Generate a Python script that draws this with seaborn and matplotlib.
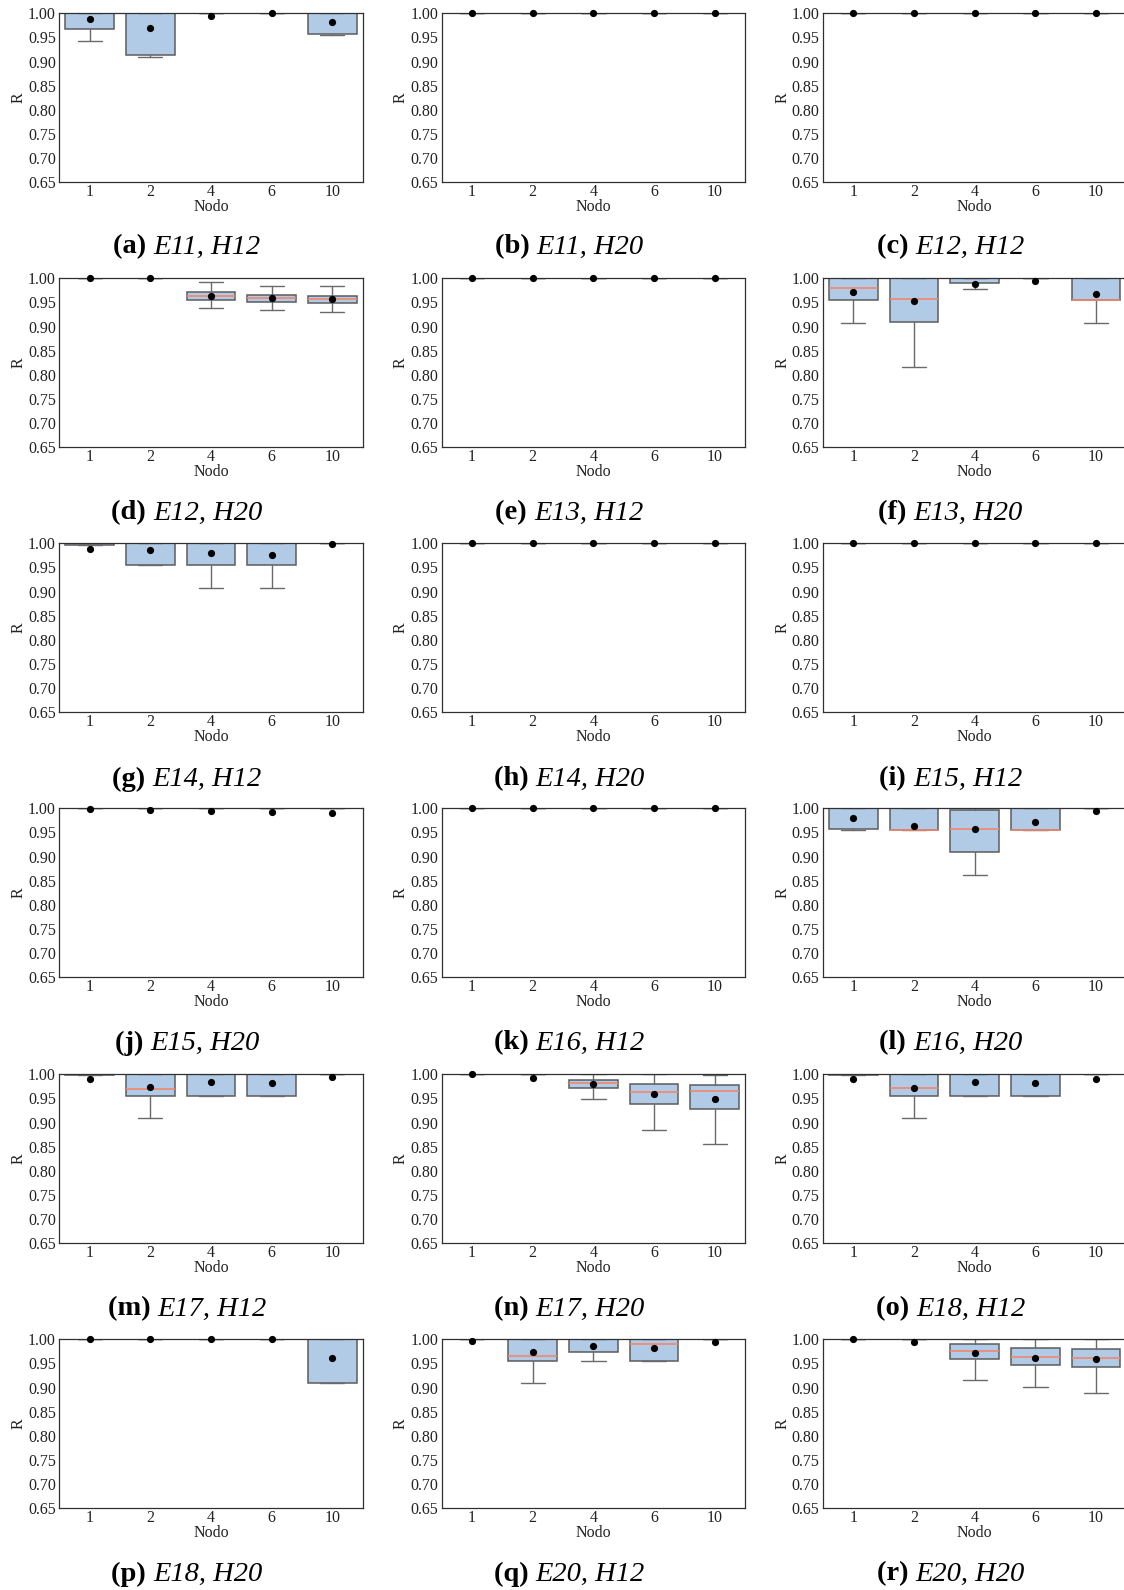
import matplotlib
matplotlib.use("Agg")
import matplotlib.pyplot as plt
import seaborn as sns
import pandas as pd

# ---- data -------------------------------------------------------------
NODOS = ["1", "2", "4", "6", "10"]
LETTERS = list("abcdefghijklmnopqr")
CASE_E = ["E11", "E11", "E12", "E12", "E13", "E13", "E14", "E14", "E15",
          "E15", "E16", "E16", "E17", "E17", "E18", "E18", "E20", "E20"]
CASE_H = ["H12", "H20"] * 9

ONES = [1.0, 1.0, 1.0, 1.0, 1.0]

Q1 = [
    [0.967, 0.914, 1.0, 1.0, 0.9565],   # a
    ONES,                                # b
    ONES,                                # c
    [1.0, 1.0, 0.954, 0.951, 0.948],     # d
    ONES,                                # e
    [0.955, 0.909, 0.990, 1.0, 0.956],   # f
    [0.9965, 0.955, 0.955, 0.955, 1.0],  # g
    ONES,                                # h
    ONES,                                # i
    ONES,                                # j
    ONES,                                # k
    [0.958, 0.955, 0.9095, 0.955, 1.0],  # l
    [0.9985, 0.955, 0.955, 0.955, 1.0],  # m
    [1.0, 1.0, 0.972, 0.9385, 0.9275],   # n
    [0.9985, 0.955, 0.955, 0.955, 1.0],  # o
    [1.0, 1.0, 1.0, 1.0, 0.909],         # p
    [1.0, 0.955, 0.9745, 0.955, 1.0],    # q
    [1.0, 1.0, 0.959, 0.946, 0.943],     # r
]

MEDIAN = [
    ONES,
    ONES,
    ONES,
    [1.0, 1.0, 0.964, 0.9585, 0.9565],
    ONES,
    [0.979, 0.957, 1.0, 1.0, 0.956],
    ONES,
    ONES,
    ONES,
    ONES,
    ONES,
    [1.0, 0.955, 0.9565, 0.955, 1.0],
    [1.0, 0.969, 1.0, 1.0, 1.0],
    [1.0, 1.0, 0.9825, 0.963, 0.966],
    [1.0, 0.971, 1.0, 1.0, 1.0],
    ONES,
    [1.0, 0.965, 1.0, 0.991, 1.0],
    [1.0, 1.0, 0.975, 0.963, 0.961],
]

Q3 = [
    ONES,
    ONES,
    ONES,
    [1.0, 1.0, 0.971, 0.9655, 0.964],
    ONES,
    ONES,
    ONES,
    ONES,
    ONES,
    ONES,
    ONES,
    [1.0, 1.0, 0.997, 1.0, 1.0],
    ONES,
    [1.0, 1.0, 0.988, 0.980, 0.977],
    ONES,
    ONES,
    ONES,
    [1.0, 1.0, 0.9895, 0.981, 0.979],
]

WHISK_LO = [
    [0.943, 0.9095, 1.0, 1.0, 0.9555],
    ONES,
    ONES,
    [1.0, 1.0, 0.938, 0.934, 0.9295],
    ONES,
    [0.907, 0.8155, 0.978, 1.0, 0.907],
    [0.9965, 0.955, 0.908, 0.908, 1.0],
    ONES,
    ONES,
    ONES,
    ONES,
    [0.9545, 0.955, 0.862, 0.955, 1.0],
    [0.9985, 0.909, 0.955, 0.955, 1.0],
    [1.0, 1.0, 0.949, 0.885, 0.8555],
    [0.9985, 0.909, 0.955, 0.955, 1.0],
    [1.0, 1.0, 1.0, 1.0, 0.909],
    [1.0, 0.9095, 0.955, 0.955, 1.0],
    [1.0, 1.0, 0.9165, 0.902, 0.8895],
]

WHISK_HI = [
    ONES,
    ONES,
    ONES,
    [1.0, 1.0, 0.9915, 0.985, 0.985],
    ONES,
    ONES,
    ONES,
    ONES,
    ONES,
    ONES,
    ONES,
    ONES,
    ONES,
    [1.0, 1.0, 1.0, 1.0, 0.9985],
    ONES,
    ONES,
    ONES,
    ONES,
]

MEAN = [
    [0.988, 0.970, 0.9945, 0.9997, 0.981],
    ONES,
    ONES,
    [1.0, 1.0, 0.9635, 0.9585, 0.9565],
    ONES,
    [0.972, 0.952, 0.989, 0.994, 0.968],
    [0.988, 0.9855, 0.980, 0.975, 0.998],
    ONES,
    ONES,
    [0.9995, 0.997, 0.9945, 0.9925, 0.9895],
    ONES,
    [0.979, 0.963, 0.958, 0.971, 0.9945],
    [0.990, 0.973, 0.984, 0.981, 0.994],
    [1.0, 0.993, 0.980, 0.9585, 0.9495],
    [0.990, 0.972, 0.985, 0.982, 0.991],
    [1.0, 1.0, 1.0, 1.0, 0.962],
    [0.996, 0.9745, 0.987, 0.981, 0.9945],
    [1.0, 0.9945, 0.972, 0.961, 0.9585],
]

Y_TICKS = [0.65, 0.70, 0.75, 0.80, 0.85, 0.90, 0.95, 1.00]

# ---- style ------------------------------------------------------------
sns.set_theme(style="white")
plt.rcParams["font.family"] = ["Liberation Serif", "DejaVu Serif"]

BOX_FACE = "#b1cbe6"
BOX_EDGE = "#5c5c5c"
WHISK_COL = "#6a6a6a"
MED_COL = "#f2876a"
SPINE_COL = "#303030"
TEXT_COL = "#222222"

W, H = 1124, 1590
fig = plt.figure(figsize=(W / 100, H / 100), dpi=100)
renderer = fig.canvas.get_renderer()

COL_LEFT = [59.3, 441.7, 823.0]
ROW_TOP = [13.3, 278.3, 543.3, 808.3, 1074.3, 1339.3]
TITLE_Y = [247, 513, 779, 1043, 1309, 1574]
AX_W, AX_H = 303.4, 168.8
TITLE_SIZE = 20.5


def caption(xc, yc, bold_part, italic_part):
    """Sub-figure caption: bold tag followed by italic case name, centred."""
    y = 1 - yc / H
    t1 = fig.text(0, y, bold_part + " ", fontsize=TITLE_SIZE,
                  fontweight="bold", ha="left", va="center", color="black")
    t2 = fig.text(0, y, italic_part, fontsize=TITLE_SIZE, fontstyle="italic",
                  ha="left", va="center", color="black")
    w1 = t1.get_window_extent(renderer).width
    w2 = t2.get_window_extent(renderer).width
    x0 = xc - (w1 + w2) / 2
    t1.set_x(x0 / W)
    t2.set_x((x0 + w1) / W)


for i in range(18):
    r, c = divmod(i, 3)
    left, top = COL_LEFT[c], ROW_TOP[r]
    ax = fig.add_axes([left / W, 1 - (top + AX_H) / H, AX_W / W, AX_H / H])

    stats = [
        dict(q1=Q1[i][k], med=MEDIAN[i][k], q3=Q3[i][k],
             whislo=WHISK_LO[i][k], whishi=WHISK_HI[i][k],
             mean=MEAN[i][k], fliers=[], label=NODOS[k])
        for k in range(len(NODOS))
    ]
    ax.bxp(stats, positions=range(len(NODOS)), widths=0.8,
           patch_artist=True, showfliers=False, showmeans=False,
           manage_ticks=False,
           boxprops=dict(facecolor=BOX_FACE, edgecolor=BOX_EDGE, linewidth=1.1),
           medianprops=dict(color=MED_COL, linewidth=1.2),
           whiskerprops=dict(color=WHISK_COL, linewidth=1.0),
           capprops=dict(color=WHISK_COL, linewidth=1.0))

    means = pd.DataFrame({"Nodo": NODOS, "R": MEAN[i]})
    sns.stripplot(data=means, x="Nodo", y="R", order=NODOS, jitter=False,
                  color="black", size=5.2, linewidth=0, zorder=6, ax=ax,
                  clip_on=False)

    ax.set_xlim(-0.5, len(NODOS) - 0.5)
    ax.set_ylim(0.65, 1.0)
    ax.set_yticks(Y_TICKS)
    ax.set_yticklabels([f"{v:.2f}" for v in Y_TICKS])
    ax.set_xticks(range(len(NODOS)))
    ax.set_xticklabels(NODOS)
    ax.tick_params(axis="both", length=0, labelsize=11.5, colors=TEXT_COL)
    ax.tick_params(axis="x", pad=1.5)
    ax.tick_params(axis="y", pad=2.5)
    ax.set_xlabel("Nodo", fontsize=11.5, color=TEXT_COL, labelpad=-1)
    ax.set_ylabel("R", fontsize=11.5, color=TEXT_COL, labelpad=1)
    for s in ax.spines.values():
        s.set_color(SPINE_COL)
        s.set_linewidth(0.9)

    caption(left + AX_W / 2 - 24, TITLE_Y[r],
            f"({LETTERS[i]})", f"{CASE_E[i]}, {CASE_H[i]}")

fig.savefig("out.png", dpi=100)
